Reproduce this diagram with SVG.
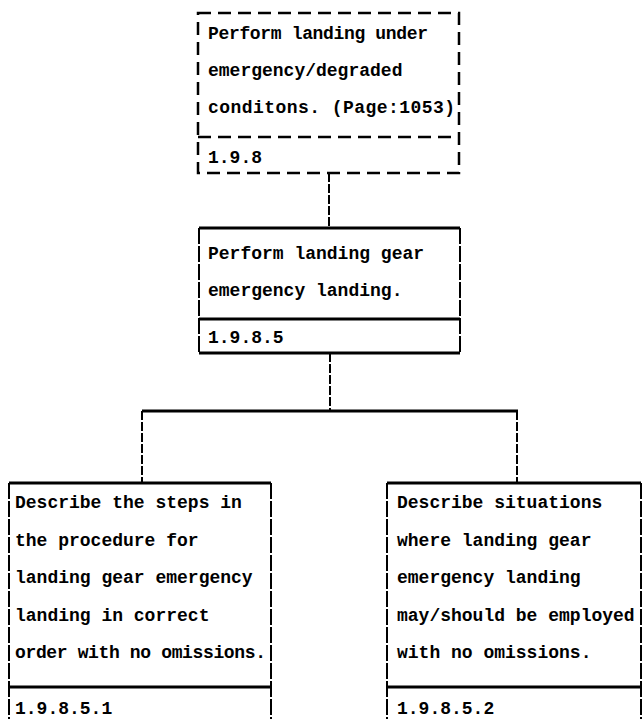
<svg xmlns="http://www.w3.org/2000/svg" width="644" height="719" viewBox="0 0 644 719">
  <style>
    .bg { fill: #ffffff; }
    .edge-h { stroke: #000; stroke-width: 3; fill: none; }
    .edge-v { stroke: #000; stroke-width: 2; fill: none; stroke-dasharray: 16 2; }
    .dashed { stroke: #000; stroke-width: 2.5; fill: none; stroke-dasharray: 13 7; }
    .link-v { stroke: #000; stroke-width: 2; fill: none; stroke-dasharray: 9 2; }
    .link-h { stroke: #000; stroke-width: 3; fill: none; }
    text { font-family: "Liberation Mono", "DejaVu Sans Mono", monospace; font-size: 18px; font-weight: bold; fill: #000; }
  </style>

  <rect class="bg" x="0" y="0" width="644" height="719"/>

  <!-- connectors -->
  <g id="connectors">
    <path class="link-v" d="M329 173 V228"/>
    <path class="link-v" d="M330 353 V411"/>
    <path class="link-h" d="M142 411 H518"/>
    <path class="link-v" d="M142 411 V483"/>
    <path class="link-v" d="M517 411 V483"/>
  </g>

  <!-- 1.9.8 : parent task, dashed outline -->
  <g id="node-1-9-8">
    <path class="dashed" d="M198 13 H459 V173 H198 Z"/>
    <path class="dashed" d="M198 137 H459"/>
    <text x="208" y="39" textLength="220" lengthAdjust="spacing">Perform landing under</text>
    <text x="208" y="76">emergency/degraded</text>
    <text x="208" y="113" textLength="247" lengthAdjust="spacing">conditons. (Page:1053)</text>
    <text x="208" y="163">1.9.8</text>
  </g>

  <!-- 1.9.8.5 -->
  <g id="node-1-9-8-5">
    <path class="edge-h" d="M199 228 H460 M199 319 H460 M199 353 H460"/>
    <path class="edge-v" d="M199 228 V353 M460 228 V353"/>
    <text x="208" y="259">Perform landing gear</text>
    <text x="208" y="296">emergency landing.</text>
    <text x="208" y="343">1.9.8.5</text>
  </g>

  <!-- 1.9.8.5.1 -->
  <g id="node-1-9-8-5-1">
    <path class="edge-h" d="M9 483 H271 M9 687 H271"/>
    <path class="edge-v" d="M9 483 V719 M271 483 V719"/>
    <text x="15" y="508">Describe the steps in</text>
    <text x="15" y="545.5">the procedure for</text>
    <text x="15" y="583">landing gear emergency</text>
    <text x="15" y="620.5">landing in correct</text>
    <text x="15" y="658" textLength="251" lengthAdjust="spacing">order with no omissions.</text>
    <text x="15" y="714">1.9.8.5.1</text>
  </g>

  <!-- 1.9.8.5.2 -->
  <g id="node-1-9-8-5-2">
    <path class="edge-h" d="M387 483 H641 M387 687 H641"/>
    <path class="edge-v" d="M387 483 V719 M641 483 V719"/>
    <text x="397" y="508">Describe situations</text>
    <text x="397" y="545.5">where landing gear</text>
    <text x="397" y="583">emergency landing</text>
    <text x="397" y="620.5">may/should be employed</text>
    <text x="397" y="658">with no omissions.</text>
    <text x="397" y="714">1.9.8.5.2</text>
  </g>
</svg>
